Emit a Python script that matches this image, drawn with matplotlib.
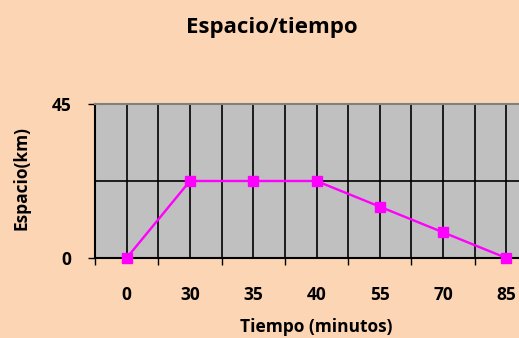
import matplotlib
matplotlib.use("Agg")
import matplotlib.pyplot as plt
import numpy as np

# 数据
tiempo = ["0", "30", "35", "40", "55", "70", "85"]
espacio = [0, 22.5, 22.5, 22.5, 15, 7.5, 0]

fondo = "#FCD5B4"
gris = "#C0C0C0"
magenta = "#FF00FF"

plt.rcParams['font.family'] = ['Open Sans', 'DejaVu Sans']

W, H = 519, 338
fig = plt.figure(figsize=(W / 100, H / 100), dpi=100, facecolor=fondo)
# el área de trazado se sale por la derecha, como en el original
ax = fig.add_axes([95 / W, 1 - 258 / H, (538 - 95) / W, 154 / H])
ax.set_facecolor(gris)

x = np.arange(len(tiempo))
ax.plot(x, espacio, color=magenta, linewidth=1.7, marker='s', markersize=7.5,
        zorder=5, clip_on=False)

ax.set_xlim(-0.5, len(tiempo) - 0.5)
ax.set_ylim(0, 45)

# ticks de categoría
ax.set_xticks(x)
ax.set_xticklabels(tiempo, fontsize=12.5, fontweight='bold')
ax.set_xticks(np.arange(-0.5, len(tiempo)), minor=True)
ax.tick_params(axis='x', which='major', length=0, pad=20)
ax.tick_params(axis='x', which='minor', length=5, direction='out', width=1)

ax.set_yticks([0, 45])
ax.set_yticklabels(["0", "45"], fontsize=12.5, fontweight='bold')
ax.set_yticks([22.5], minor=True)
ax.tick_params(axis='y', which='major', length=5, direction='out', width=1, pad=12)
ax.tick_params(axis='y', which='minor', length=0)

# cuadrícula
ax.grid(True, which='both', color='black', linewidth=1.2)
ax.set_axisbelow(True)

for s in ['top', 'right']:
    ax.spines[s].set_color('#808080')
    ax.spines[s].set_linewidth(1.5)
for s in ['left', 'bottom']:
    ax.spines[s].set_color('black')
    ax.spines[s].set_linewidth(1.5)

fig.text(316 / W, 1 - 327 / H, "Tiempo (minutos)", fontsize=12.5,
         fontweight='bold', ha='center', va='center')
fig.text(22 / W, 1 - 178 / H, "Espacio(km)", fontsize=12.5, rotation=90,
         fontweight='bold', ha='center', va='center')
fig.text(272 / W, 1 - 28 / H, "Espacio/tiempo", fontsize=16,
         fontweight='bold', ha='center', va='center')

fig.savefig("out.png", dpi=100, facecolor=fondo)
